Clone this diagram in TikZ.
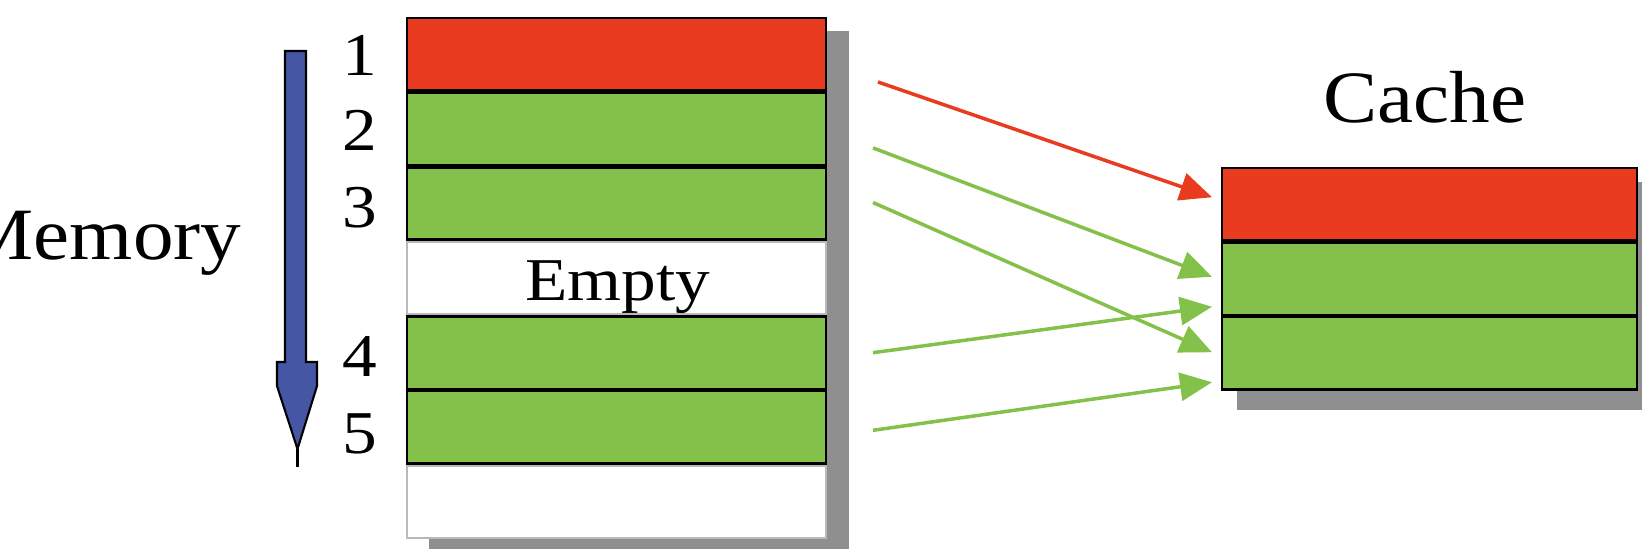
\documentclass[tikz,border=0pt]{standalone}
\usepackage{fontspec}
\setmainfont{Liberation Serif}
\usetikzlibrary{arrows.meta}
\definecolor{slotRed}{RGB}{233,59,31}
\definecolor{slotGreen}{RGB}{132,193,74}
\definecolor{shadowGray}{RGB}{143,143,143}
\definecolor{rim}{RGB}{185,185,185}
\definecolor{flowBlue}{RGB}{68,86,164}

\begin{document}
\begin{tikzpicture}[
  slot/.style={draw=black, line width=0.8pt, minimum height=0.725cm, inner sep=0pt, outer sep=0pt},
  memslot/.style={slot, minimum width=4.19cm},
  cacheslot/.style={slot, minimum width=4.15cm},
  blankslot/.style={memslot, draw=rim, line width=0.5pt, fill=white},
  link/.style={line width=1pt, -{Triangle[length=0.32cm,width=0.28cm]}},
  bigtext/.style={font=\fontsize{21}{24}\selectfont, inner sep=0pt, xscale=1.1},
  smalltext/.style={font=\fontsize{17.3}{20}\selectfont, inner sep=0pt, xscale=1.14},
]
\useasboundingbox (0,0) rectangle (16.42,5.48);

% ── Shadows ──
\fill[shadowGray] (4.29,5.165) rectangle (8.49,-0.1);
\fill[shadowGray] (12.37,3.66) rectangle (16.6,1.38);

% ── Memory column ──
\node[blankslot] (mem4) at (6.165, 2.699) {};
\node[blankslot] (mem7) at (6.165, 0.461) {};
\foreach \i/\col in {1/slotRed, 2/slotGreen, 3/slotGreen, 5/slotGreen, 6/slotGreen} {
  \node[memslot, fill=\col] (mem\i) at (6.165, {5.31-(\i-0.5)*0.746}) {};
}
\node[smalltext, anchor=base] (emptytxt) at (6.18, 2.47) {Empty};

% slot numbers
\foreach \n/\y in {1/4.73, 2/3.98, 3/3.21, 4/1.72, 5/0.95} {
  \node[smalltext, anchor=base] (num\n) at (3.60, \y) {\n};
}

\node[bigtext, anchor=base east] (memlbl) at (2.42, 2.89) {Memory};

% ── Blue direction arrow ──
\filldraw[fill=flowBlue, draw=black, line width=0.6pt]
  (2.85,4.97) -- (3.06,4.97) -- (3.06,1.86) -- (3.17,1.86) -- (3.17,1.62)
  -- (2.975,0.99) -- (2.77,1.62) -- (2.77,1.86) -- (2.85,1.86) -- cycle;
\draw[line width=1.1pt] (2.975,0.99) -- (2.975,0.81);

% ── Cache column ──
\foreach \i/\col in {1/slotRed, 2/slotGreen, 3/slotGreen} {
  \node[cacheslot, fill=\col] (cache\i) at (14.295, {3.81-(\i-0.5)*0.745}) {};
}
\node[bigtext, anchor=base] (cachelbl) at (14.25, 4.25) {Cache};

% ── Mapping arrows ──
\draw[link, slotRed] ([xshift=0.52cm, yshift=-0.277cm]mem1.east) -- ([xshift=-0.10cm, yshift=0.07cm]cache1.west);
\draw[link, slotGreen] ([xshift=0.47cm, yshift=-0.19cm]mem2.east) -- ([xshift=-0.10cm, yshift=0.02cm]cache2.west);
\draw[link, slotGreen] ([xshift=0.47cm, yshift=0.01cm]mem3.east) -- ([xshift=-0.10cm, yshift=0.01cm]cache3.west);
\draw[link, slotGreen] ([xshift=0.47cm]mem5.east) -- ([xshift=-0.10cm, yshift=-0.28cm]cache2.west);
\draw[link, slotGreen] ([xshift=0.47cm, yshift=-0.03cm]mem6.east) -- ([xshift=-0.10cm, yshift=-0.29cm]cache3.west);

\end{tikzpicture}
\end{document}
